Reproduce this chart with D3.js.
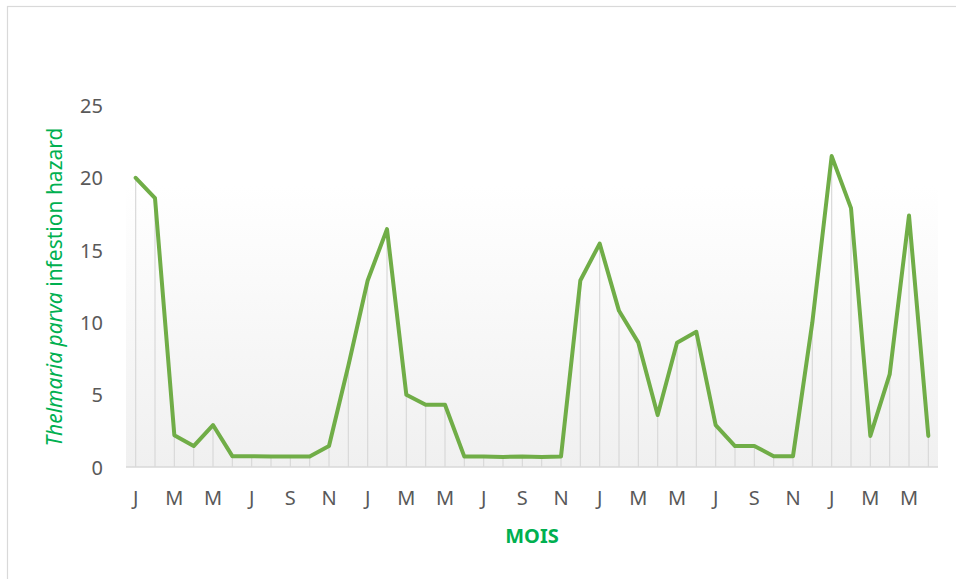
<!DOCTYPE html>
<html><head><meta charset="utf-8">
<script src="https://cdn.jsdelivr.net/npm/d3@7"></script>
<style>body{margin:0;background:#fff}svg{display:block}</style>
</head><body>
<svg id="c" width="956" height="579"></svg>
<script>
const months = ["J","F","M","A","M","J","J","A","S","O","N","D"];
const categories = d3.range(42).map(i => i + ":" + months[i % 12]);
const values = [20.0,18.6,2.2,1.45,2.9,0.75,0.75,0.72,0.72,0.72,1.45,7.0,
  12.9,16.45,5.0,4.3,4.3,0.72,0.72,0.7,0.72,0.7,0.72,12.9,
  15.45,10.8,8.6,3.6,8.6,9.35,2.9,1.45,1.45,0.75,0.75,10.0,
  21.5,17.9,2.15,6.4,17.4,2.15];
const yTicks = [0,5,10,15,20,25];

const svg = d3.select("#c");
const pLeft = 126, pRight = 938, pTop = 105.5, pBottom = 467;

svg.append("rect").attr("x",7.5).attr("y",6.5).attr("width",1000).attr("height",700)
  .attr("fill","none").attr("stroke","#d9d9d9").attr("stroke-width",1.2);

const defs = svg.append("defs");
const g = defs.append("linearGradient").attr("id","bg").attr("x1",0).attr("y1",0).attr("x2",0).attr("y2",1);
g.append("stop").attr("offset","0%").attr("stop-color","#ffffff");
g.append("stop").attr("offset","22%").attr("stop-color","#ffffff");
g.append("stop").attr("offset","100%").attr("stop-color","#f0f0f0");

const x = d3.scaleBand().domain(categories).range([pLeft,pRight]);
const y = d3.scaleLinear().domain([0,25]).range([pBottom,pTop]);

svg.append("rect").attr("x",pLeft).attr("y",y(25)).attr("width",pRight-pLeft).attr("height",pBottom-y(25))
  .attr("fill","url(#bg)");

const cx = d => x(d) + x.bandwidth()/2;

// drop lines
svg.append("g").selectAll("line").data(categories).join("line")
  .attr("x1",d=>cx(d)).attr("x2",d=>cx(d))
  .attr("y1",(d,i)=>y(values[i])).attr("y2",pBottom)
  .attr("stroke","#d9d9d9").attr("stroke-width",1.2);

// baseline
svg.append("line").attr("x1",pLeft).attr("x2",pRight).attr("y1",pBottom).attr("y2",pBottom)
  .attr("stroke","#d9d9d9").attr("stroke-width",1.5);

// x axis
const xAxis = d3.axisBottom(x).tickSize(0).tickPadding(0)
  .tickValues(categories.filter((d,i)=>i%2===0))
  .tickFormat(d => d.split(":")[1]);
const xa = svg.append("g").attr("transform",`translate(0,${pBottom})`).call(xAxis);
xa.select(".domain").remove();
xa.selectAll("text").attr("dy",null).attr("y",38).attr("fill","#595959")
  .style("font-family","'Noto Sans', sans-serif").style("font-size","20px");

// y axis
const yAxis = d3.axisLeft(y).tickValues(yTicks).tickSize(0).tickPadding(0);
const ya = svg.append("g").attr("transform",`translate(103,0)`).call(yAxis);
ya.select(".domain").remove();
ya.selectAll("text").attr("fill","#595959").attr("dy","0.35em")
  .style("font-family","'Noto Sans', sans-serif").style("font-size","20px");

// line
const line = d3.line().x((d,i)=>cx(categories[i])).y(d=>y(d));
svg.append("path").datum(values).attr("d",line).attr("fill","none")
  .attr("stroke","#70ad47").attr("stroke-width",4).attr("stroke-linejoin","round").attr("stroke-linecap","round");

// y title
const yt = svg.append("text").attr("transform","translate(62,287) rotate(-90)")
  .attr("text-anchor","middle").attr("fill","#00b050")
  .style("font-family","'Noto Sans', sans-serif").style("font-size","21px");
yt.append("tspan").style("font-style","italic").text("Thelmaria parva");
yt.append("tspan").text(" infestion hazard");

// x title
svg.append("text").attr("x",532).attr("y",543).attr("text-anchor","middle").attr("fill","#00b050")
  .style("font-family","'Noto Sans', sans-serif").style("font-size","20px").style("font-weight","bold")
  .text("MOIS");
</script>
</body></html>
